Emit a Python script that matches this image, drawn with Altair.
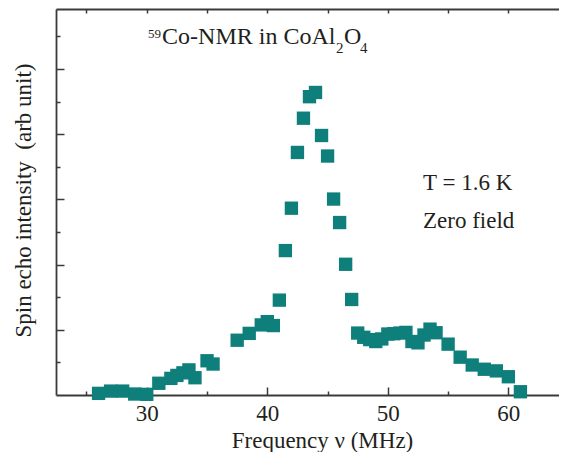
import altair as alt
import pandas as pd

# ---- data ----
freq = [26, 27, 28, 29, 30, 31, 32, 32.5, 33, 33.5, 34, 35, 35.5, 37.5, 38.5, 39.5, 40, 40.5,
        41, 41.5, 42, 42.5, 43, 43.5, 44, 44.5, 45, 45.5, 46, 46.5, 47, 47.5, 48, 48.5, 49, 49.5,
        50, 50.5, 51, 51.5, 52, 52.5, 53, 53.5, 54, 55, 56, 57, 58, 59, 60, 61]
intensity = [0.05, 0.12, 0.12, 0.03, 0.02, 0.36, 0.51, 0.60, 0.68, 0.77, 0.53, 1.05, 0.95, 1.68, 1.89, 2.15, 2.25, 2.13,
             2.91, 4.43, 5.73, 7.44, 8.49, 9.15, 9.28, 7.96, 7.33, 6.01, 5.29, 4.01, 2.93, 1.90, 1.77, 1.70, 1.64, 1.72,
             1.87, 1.88, 1.90, 1.92, 1.64, 1.60, 1.84, 2.02, 1.91, 1.56, 1.16, 0.92, 0.79, 0.74, 0.56, 0.10]

x_labels = [30, 40, 50, 60]
x_major = [30, 40, 50, 60]
x_minor = [25, 35, 45, 55]
x_top = [25, 30, 35, 40, 45, 50, 55, 60]
y_major = [2, 4, 6, 8, 10]
y_minor = [1, 3, 5, 7, 9, 11]

title_parts = ["59", "Co-NMR in CoAl", "2", "O", "4"]
notes = ["T = 1.6 K", "Zero field"]

df = pd.DataFrame({"f": freq, "s": intensity})

FONT = "Liberation Serif"
TXT = "#231f20"
AX = "#3a3a3a"
TEAL = "#0e7f7b"

xs = alt.Scale(domain=[22.47, 64.20], nice=False, zero=False)
ys = alt.Scale(domain=[0, 11.84], nice=False, zero=False)

pts = alt.Chart(df).mark_square(size=178, color=TEAL, opacity=1).encode(
    x=alt.X("f:Q", scale=xs, axis=alt.Axis(
        orient="bottom", values=x_labels, ticks=False, tickSize=0, grid=False,
        domainColor=AX, domainWidth=1.8,
        labelFont=FONT, labelFontSize=23, labelColor=TXT, labelPadding=25,
        labelBaseline="alphabetic",
        title="Frequency \u03bd (MHz)", titleFont=FONT, titleFontSize=23,
        titleFontWeight="normal", titleColor=TXT, titleBaseline="alphabetic",
        titleAlign="center", titleX=266, titleY=52)),
    y=alt.Y("s:Q", scale=ys, axis=alt.Axis(
        orient="left", labels=False, ticks=False, tickSize=0, grid=False,
        domainColor=AX, domainWidth=1.8,
        title="Spin echo intensity\u00a0 (arb unit)", titleFont=FONT, titleFontSize=23,
        titleFontWeight="normal", titleColor=TXT, titleAngle=270,
        titleBaseline="alphabetic", titleAlign="center", titleX=-26, titleY=191)),
)


def tick_layer(xvals, xsize, xoff, xorient, yvals=None, ysize=0, yoff=0):
    xa = alt.Axis(orient=xorient, values=xvals, tickSize=xsize, offset=xoff,
                  domain=False, labels=False, title=None, grid=False,
                  tickColor=AX, tickWidth=1.5)
    if yvals is None:
        ya = None
    else:
        ya = alt.Axis(orient="left", values=yvals, tickSize=ysize, offset=yoff,
                      domain=False, labels=False, title=None, grid=False,
                      tickColor=AX, tickWidth=1.5)
    return alt.Chart(df).mark_point(opacity=0).encode(
        x=alt.X("f:Q", scale=xs, axis=xa),
        y=alt.Y("s:Q", scale=ys, axis=ya),
    )


major = tick_layer(x_major, 8, -8, "bottom", y_major, 8, -8)
minor = tick_layer(x_minor, 4, -4, "bottom", y_minor, 4, -4)
top_ticks = tick_layer(x_top, 4, -4, "top")
top_line = alt.Chart(df).mark_point(opacity=0).encode(
    x=alt.X("f:Q", scale=xs, axis=alt.Axis(
        orient="top", ticks=False, labels=False, title=None, grid=False,
        domainColor=AX, domainWidth=1.8)),
    y=alt.Y("s:Q", scale=ys, axis=None),
)

ann = pd.DataFrame({
    "t": title_parts + notes,
    "x": [30.10, 31.27, 45.70, 46.36, 47.69, 52.92, 52.92],
    "y": [10.94, 10.76, 10.48, 10.76, 10.48, 6.29, 5.11],
    "sz": [13, 24, 15, 24, 15, 23, 23],
})
text = alt.Chart(ann).mark_text(align="left", baseline="alphabetic", font=FONT, color=TXT).encode(
    x=alt.X("x:Q", scale=xs, axis=None),
    y=alt.Y("y:Q", scale=ys, axis=None),
    text="t:N",
    size=alt.Size("sz:Q", scale=None, legend=None),
)

chart = alt.layer(pts, major, minor, top_line, top_ticks, text).resolve_axis(
    x="independent", y="independent"
).properties(
    width=503, height=386,
    autosize=alt.AutoSizeParams(type="none"),
    padding={"left": 48, "top": 1, "right": 0, "bottom": 57},
    background="white",
).configure_view(stroke=None)

chart.save("out.html", embed_options={"renderer": "svg", "actions": False})
